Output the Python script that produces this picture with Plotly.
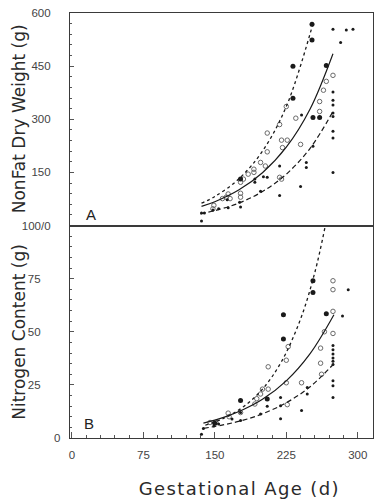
import plotly.graph_objects as go

# ---------------- data ----------------
# Panel A: NonFat Dry Weight (g)
a_open_x = [274, 267, 264, 260, 260, 235, 225, 218, 205, 220, 226, 221, 205, 240, 218, 220, 198, 203, 191, 191, 185, 180, 177, 177, 177, 164, 162, 158, 166, 149, 148]
a_open_y = [424, 407, 382, 350, 322, 303, 336, 285, 261, 241, 241, 220, 208, 229, 136, 131, 178, 168, 159, 150, 145, 131, 122, 91, 80, 89, 80, 76, 76, 57, 47]
a_fill_x = [252, 252, 232, 232, 267, 260, 253, 177]
a_fill_y = [568, 524, 450, 359, 452, 305, 305, 131]
a_dot_x = [274, 282, 288, 295, 274, 274, 274, 274, 274, 274, 274, 274, 241, 218, 246, 246, 253, 240, 218, 201, 205, 192, 192, 176, 177, 163, 164, 198, 148, 154, 136, 139, 136]
a_dot_y = [554, 517, 552, 554, 377, 354, 340, 318, 308, 266, 247, 150, 312, 168, 178, 164, 224, 110, 85, 138, 136, 122, 131, 66, 52, 73, 50, 97, 44, 47, 35, 35, 13]

a_dotted_x = [136, 150, 175, 200, 225, 253]
a_dotted_y = [63, 82, 131, 210, 336, 570]
a_solid_x = [136, 150, 175, 200, 225, 250, 274]
a_solid_y = [54, 67, 100, 149, 221, 329, 485]
a_dash_x = [135, 150, 175, 200, 225, 250, 274]
a_dash_y = [33, 42, 63, 96, 145, 218, 322]

# Panel B: Nitrogen Content (g)
b_open_x = [274, 274, 274, 274, 265, 261, 261, 262, 241, 225, 225, 226, 206, 227, 198, 200, 194, 192, 206, 164, 165, 151, 145, 177]
b_open_y = [74, 69.8, 59.6, 49.2, 50, 42.3, 35.2, 30, 26, 36.6, 26, 15.7, 33.5, 43, 20.7, 23, 18.5, 16, 23, 11.7, 10, 7.3, 7.3, 12]
b_fill_x = [253, 253, 222, 222, 267, 177, 205, 150]
b_fill_y = [74, 68.5, 58, 46.6, 58.5, 17.6, 18.4, 6.9]
b_dot_x = [290, 284, 274, 274, 274, 274, 274, 274, 274, 274, 274, 247, 247, 241, 219, 219, 219, 205, 198, 177, 177, 168, 154, 149, 136, 138]
b_dot_y = [69.8, 57.4, 43.5, 41.5, 39.5, 37.6, 36.1, 34.6, 26.9, 24.6, 19.1, 23.8, 20.7, 13, 19.1, 15.2, 9.1, 15, 11.3, 12, 8.2, 9, 6.6, 5.6, 1.8, 4.5]

b_dotted_x = [140, 160, 180, 200, 220, 240, 255, 266]
b_dotted_y = [6, 9.4, 14.7, 23, 36, 56, 78, 100]
b_solid_x = [138, 160, 180, 200, 225, 250, 275]
b_solid_y = [7, 9.8, 13.4, 18.2, 26.9, 39.7, 58]
b_dash_x = [138, 160, 180, 200, 225, 250, 275]
b_dash_y = [4.5, 6.3, 8.4, 11.4, 16.6, 24.1, 35]

x_ticks = [0, 75, 150, 225, 300]
a_ticks = [0, 150, 300, 450, 600]
a_ticktext = ["100/0", "150", "300", "450", "600"]
b_ticks = [25, 50, 75]

# ---------------- figure ----------------
INK = "#1a1a1a"
fig = go.Figure()

def add_panel(xa, ya, ox, oy, fx, fy, dx, dy, lines):
    fig.add_trace(go.Scatter(x=ox, y=oy, mode="markers", xaxis=xa, yaxis=ya,
                             marker=dict(symbol="circle-open", size=4.5, color="#6a6a6a", line=dict(width=1))))
    fig.add_trace(go.Scatter(x=fx, y=fy, mode="markers", xaxis=xa, yaxis=ya,
                             marker=dict(symbol="circle", size=5, color=INK)))
    fig.add_trace(go.Scatter(x=dx, y=dy, mode="markers", xaxis=xa, yaxis=ya,
                             marker=dict(symbol="circle", size=3, color=INK)))
    for (lx, ly, dash, w) in lines:
        fig.add_trace(go.Scatter(x=lx, y=ly, mode="lines", xaxis=xa, yaxis=ya,
                                 line=dict(color=INK, width=w, dash=dash, shape="spline")))

add_panel("x2", "y2", a_open_x, a_open_y, a_fill_x, a_fill_y, a_dot_x, a_dot_y,
          [(a_dotted_x, a_dotted_y, "dot", 1.3), (a_solid_x, a_solid_y, "solid", 1.2),
           (a_dash_x, a_dash_y, "5px,3px", 1.2)])
add_panel("x", "y", b_open_x, b_open_y, b_fill_x, b_fill_y, b_dot_x, b_dot_y,
          [(b_dotted_x, b_dotted_y, "dot", 1.3), (b_solid_x, b_solid_y, "solid", 1.2),
           (b_dash_x, b_dash_y, "5px,3px", 1.2)])

tickfont = dict(family="Liberation Sans, Arial, sans-serif", size=11.5, color="#444444")
axline = dict(showline=True, linecolor="#3a3a3a", linewidth=1.2, mirror=True,
              showgrid=False, zeroline=False)

fig.update_layout(
    width=381, height=500,
    margin=dict(l=70, r=8, t=7, b=62),
    paper_bgcolor="white", plot_bgcolor="white",
    showlegend=False,
    xaxis=dict(domain=[0, 1], anchor="y", range=[-2, 316], tickvals=x_ticks,
               ticks="inside", ticklen=6, tickcolor="#555", tickfont=tickfont,
               ticklabelstandoff=6,
               minor=dict(dtick=15, tick0=0, ticks="inside", ticklen=3, tickcolor="#555"),
               **axline),
    xaxis2=dict(domain=[0, 1], anchor="y2", range=[-2, 316], showticklabels=False,
                ticks="", **axline),
    yaxis=dict(domain=[0, 0.5], anchor="x", range=[0, 100], tickvals=b_ticks,
               ticks="inside", ticklen=4, tickcolor="#555", tickfont=tickfont,
               ticklabelstandoff=26,
               minor=dict(dtick=5, tick0=0, ticks="inside", ticklen=2, tickcolor="#555"),
               **axline),
    yaxis2=dict(domain=[0.5, 1], anchor="x2", range=[0, 600], tickvals=a_ticks,
                ticktext=a_ticktext, ticks="inside", ticklen=4, tickcolor="#555",
                tickfont=tickfont, ticklabelstandoff=16,
                minor=dict(dtick=30, tick0=0, ticks="inside", ticklen=2, tickcolor="#555"),
                **axline),
)

ytitlefont = dict(family="DejaVu Sans, sans-serif", size=17, color="#2a2a2a")
xtitlefont = dict(family="DejaVu Sans, sans-serif", size=18, color="#2a2a2a")
fig.add_annotation(text="NonFat Dry Weight (g)", xref="paper", yref="paper",
                   x=0, y=0.75, xshift=-51, textangle=-90, showarrow=False,
                   xanchor="center", yanchor="middle", font=ytitlefont)
fig.add_annotation(text="Nitrogen Content (g)", xref="paper", yref="paper",
                   x=0, y=0.25, xshift=-51, textangle=-90, showarrow=False,
                   xanchor="center", yanchor="middle", font=ytitlefont)
fig.add_annotation(text="Gestational Age (d)", xref="paper", yref="paper",
                   x=0.558, y=0, yshift=-50, showarrow=False,
                   xanchor="center", yanchor="middle", font=xtitlefont)
fig.add_annotation(text="0", xref="paper", yref="paper", x=0, y=0, xshift=-8,
                   showarrow=False, xanchor="right", yanchor="middle", font=tickfont)
panelfont = dict(family="Liberation Sans, Arial, sans-serif", size=15, color="#222222")
fig.add_annotation(text="A", xref="paper", yref="paper", x=0, y=0.5, xshift=14, yshift=11,
                   showarrow=False, xanchor="left", yanchor="middle", font=panelfont)
fig.add_annotation(text="B", xref="paper", yref="paper", x=0, y=0, xshift=12, yshift=15,
                   showarrow=False, xanchor="left", yanchor="middle", font=panelfont)

post = """
document.body.style.margin='0';
var t = document.querySelector('g.annotation[data-index="2"] text.annotation-text');
if (t) { t.style.letterSpacing = '1.4px'; }
"""
fig.write_html("out.html", post_script=post, config={"displayModeBar": False})
